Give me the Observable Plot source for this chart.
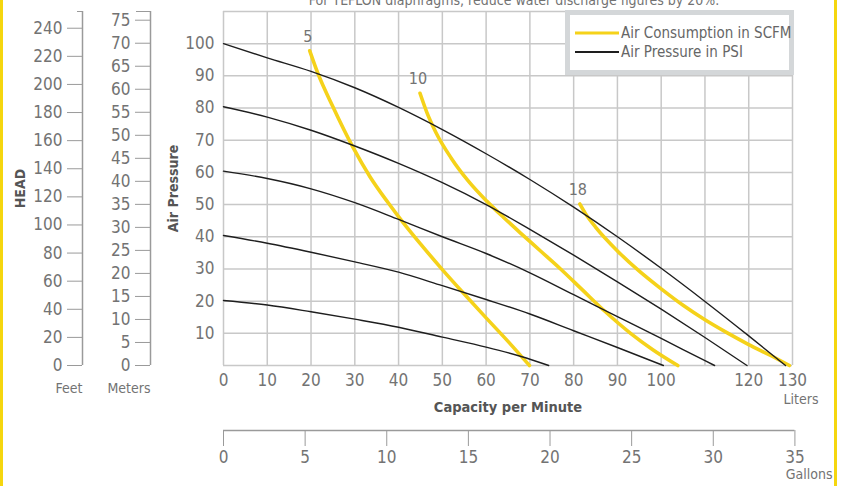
<!DOCTYPE html>
<html><head><meta charset="utf-8">
<script src="https://cdn.jsdelivr.net/npm/d3@7"></script>
<script src="https://cdn.jsdelivr.net/npm/@observablehq/plot@0.6"></script>
<style>
html,body{margin:0;padding:0;background:#fff;}
#wrap{position:relative;width:842px;height:486px;overflow:hidden;font-family:"Liberation Sans Narrow","DejaVu Sans Condensed","Arial Narrow",sans-serif;}
#wrap > svg{position:absolute;left:0;top:0;}
.bar{position:absolute;top:0;width:3px;height:486px;background:#f5d60f;}
#legend{position:absolute;left:565px;top:10px;width:219px;height:55px;border:5px solid #d4d7d9;background:#fff;}
.row{position:absolute;left:5px;height:18px;display:flex;align-items:center;font-size:15px;color:#666;white-space:nowrap;}
.sw{display:block;width:44px;margin-right:2px;flex:none;}
</style></head>
<body><div id="wrap"></div>
<script>
// ---- data ----
const literGrid = [0,10,20,30,40,50,60,70,80,90,100,110,120,130];
const literLabels = [0,10,20,30,40,50,60,70,80,90,100,120,130];
const pressureGrid = [0,10,20,30,40,50,60,70,80,90,100,110];
const pressureLabels = [10,20,30,40,50,60,70,80,90,100];
const feetTicks = [0,20,40,60,80,100,120,140,160,180,200,220,240];
const meterTicks = [0,5,10,15,20,25,30,35,40,45,50,55,60,65,70,75];
const gallonTicks = [0,5,10,15,20,25,30,35];
const FT_PER_PSI = 2.29, M_PER_PSI = 0.699, L_PER_GAL = 3.73;

// Air pressure lines (PSI): [liters/min, pressure]
const psi100 = [[0,100],[10,95.6],[20,91.4],[30,86.3],[40,80.2],[50,73.3],[60,65.8],[70,57.8],[80,49.2],[90,40],[100,30.2],[110,19.9],[120,9.2],[128.4,0]];
const psi80 = [[0,80.4],[10,77.2],[20,73.1],[30,68.2],[40,62.8],[50,56.8],[60,50],[70,42.3],[80,34.3],[90,26],[100,17.5],[110,8.7],[119.6,0]];
const psi60 = [[0,60.4],[10,58.1],[20,54.9],[30,50.6],[40,45.4],[50,40],[60,34.8],[70,28.8],[80,22],[90,15.2],[100,8.4],[110,1.5],[112.2,0]];
const psi40 = [[0,40.4],[10,38],[20,35.2],[30,32.2],[40,29],[50,24.8],[60,20.5],[70,16],[80,10.8],[90,5.6],[100.5,0]];
const psi20 = [[0,20.2],[10,18.8],[20,16.7],[30,14.4],[40,11.9],[50,8.8],[60,5.7],[68,2.8],[74.3,0]];

// Air consumption lines (SCFM)
const scfm5 = [[19.7,97.8],[21.5,91],[25,80.4],[29.5,68],[33.5,58.6],[37.5,50.8],[41,44.5],[45,37.8],[50,29.8],[55,22.2],[60,14.8],[65,7.5],[69.9,0]];
const scfm10 = [[44.9,84.6],[46.5,78.5],[48.5,72.5],[52,64.5],[56,57.2],[60.2,51],[64,46],[68,41],[72.5,35.5],[77,30],[82,23.5],[87,17],[93,10],[98,5],[103.8,0]];
const scfm18 = [[81.4,50.2],[82.7,47.2],[85,43],[90,35.6],[95,29.3],[100,23.8],[105,18.7],[110,14.2],[115,10.2],[120,6.5],[125,3.1],[129.3,0]];

const psiSeries = [["100",psi100],["80",psi80],["60",psi60],["40",psi40],["20",psi20]];
const scfmSeries = [["5",scfm5],["10",scfm10],["18",scfm18]];

const title = "For TEFLON diaphragms, reduce water discharge figures by 20%.";

// ---- build tables ----
const psiRows = psiSeries.flatMap(([s, pts]) => pts.map(([x,y]) => ({series:s, x, y})));
const scfmRows = scfmSeries.flatMap(([s, pts]) => pts.map(([x,y]) => ({series:s, x, y})));
const scfmLabelRows = scfmSeries.map(([s, pts]) => ({label:s, x:pts[0][0], y:pts[0][1]}));

const FONT = '"Liberation Sans Narrow","DejaVu Sans Condensed","Arial Narrow",sans-serif';
const AXIS = "#9a9a9a";
const LABEL = "#737373";

const chart = Plot.plot({
  width: 842, height: 486,
  marginLeft: 223, marginRight: 50, marginTop: 11, marginBottom: 121,
  x: {domain: [0,130], label: null},
  y: {domain: [0,110], label: null},
  style: {fontFamily: FONT, fontSize: "17px", color: LABEL, background: "transparent", overflow: "visible"},
  marks: [
    Plot.gridX(literGrid, {stroke: "#c8c8c8", strokeOpacity: 1, strokeWidth: 1.5}),
    Plot.gridY(pressureGrid, {stroke: "#c8c8c8", strokeOpacity: 1, strokeWidth: 1.5}),
    Plot.line(scfmRows, {x: "x", y: "y", z: "series", stroke: "#f5d21a", strokeWidth: 3.6, curve: "monotone-x"}),
    Plot.line(psiRows, {x: "x", y: "y", z: "series", stroke: "#1e1e1e", strokeWidth: 1.4, curve: "monotone-x"}),
    Plot.text(scfmLabelRows, {x: "x", y: "y", text: "label", dy: -14, dx: -2, fontSize: 16, fill: LABEL}),
    // pressure axis
    Plot.axisY(pressureLabels, {anchor: "left", tickSize: 0, tickPadding: 9, label: null, fill: LABEL}),
    // liters axis
    Plot.axisX(literLabels, {anchor: "bottom", tickSize: 0, tickPadding: 8, label: null, fill: LABEL}),
    // feet axis
    Plot.ruleX([0], {y1: 0, y2: 110, dx: -141, stroke: AXIS, strokeWidth: 1.5}),
    Plot.axisY(feetTicks.map(f => f / FT_PER_PSI), {anchor: "left", dx: -141, tickSize: 15, tickPadding: 5, stroke: AXIS, fill: LABEL, label: null, tickFormat: d => String(Math.round(d * FT_PER_PSI))}),
    Plot.axisY([110], {anchor: "left", dx: -141, tickSize: 5, stroke: AXIS, label: null, tickFormat: () => ""}),
    // meters axis
    Plot.ruleX([0], {y1: 0, y2: 110, dx: -73, stroke: AXIS, strokeWidth: 1.5}),
    Plot.axisY(meterTicks.map(m => m / M_PER_PSI), {anchor: "left", dx: -73, tickSize: 15, tickPadding: 5, stroke: AXIS, fill: LABEL, label: null, tickFormat: d => String(Math.round(d * M_PER_PSI))}),
    Plot.axisY([110], {anchor: "left", dx: -73, tickSize: 14, stroke: AXIS, label: null, tickFormat: () => ""}),
    // gallons axis
    Plot.ruleY([0], {x1: 0, x2: gallonTicks[gallonTicks.length-1] * L_PER_GAL, dy: 65, stroke: AXIS, strokeWidth: 1.5}),
    Plot.axisX(gallonTicks.map(g => g * L_PER_GAL), {anchor: "bottom", dy: 65, tickSize: 16, tickPadding: 4, stroke: AXIS, fill: LABEL, label: null, tickFormat: d => String(Math.round(d / L_PER_GAL))}),
    // texts
    Plot.text(["Liters"], {text: d => d, frameAnchor: "bottom-right", textAnchor: "end", dx: 26, dy: 38, fontSize: 14, fill: LABEL}),
    Plot.text(["Gallons"], {text: d => d, frameAnchor: "bottom-right", textAnchor: "end", dx: 40, dy: 113, fontSize: 14, fill: LABEL}),
    Plot.text(["Capacity per Minute"], {text: d => d, frameAnchor: "bottom", textAnchor: "middle", dy: 46, fontSize: 14.5, fontWeight: "bold", fill: "#555"}),
    Plot.text(["Feet"], {text: d => d, frameAnchor: "bottom-left", textAnchor: "end", dx: -141, dy: 27, fontSize: 14, fill: LABEL}),
    Plot.text(["Meters"], {text: d => d, frameAnchor: "bottom-left", textAnchor: "end", dx: -73, dy: 27, fontSize: 14, fill: LABEL}),
    Plot.text(["Air Pressure"], {text: d => d, frameAnchor: "left", textAnchor: "middle", rotate: -90, dx: -50, fontSize: 14, fontWeight: "bold", fill: "#555"}),
    Plot.text(["HEAD"], {text: d => d, frameAnchor: "left", textAnchor: "middle", rotate: -90, dx: -203, fontSize: 14, fontWeight: "bold", fill: "#555"}),
    Plot.text([title], {text: d => d, frameAnchor: "top", textAnchor: "middle", lineAnchor: "bottom", dx: 6, dy: -7, fontSize: 14, fill: LABEL})
  ]
});

const wrap = document.getElementById("wrap");
wrap.appendChild(chart);

// yellow page borders
for (const left of [0, 834]) {
  const b = document.createElement("div");
  b.className = "bar"; b.style.left = left + "px";
  wrap.appendChild(b);
}

// legend
const legendItems = [
  {label: "Air Consumption in SCFM", color: "#f5d21a", width: 3},
  {label: "Air Pressure in PSI", color: "#1e1e1e", width: 2}
];
const legend = document.createElement("div");
legend.id = "legend";
legendItems.forEach((item, i) => {
  const row = document.createElement("div");
  row.className = "row";
  row.style.top = (9 + i * 19) + "px";
  row.innerHTML = `<svg class="sw" width="44" height="6"><line x1="0" x2="44" y1="3" y2="3" stroke="${item.color}" stroke-width="${item.width}"/></svg><span>${item.label}</span>`;
  legend.appendChild(row);
});
wrap.appendChild(legend);
</script></body></html>
